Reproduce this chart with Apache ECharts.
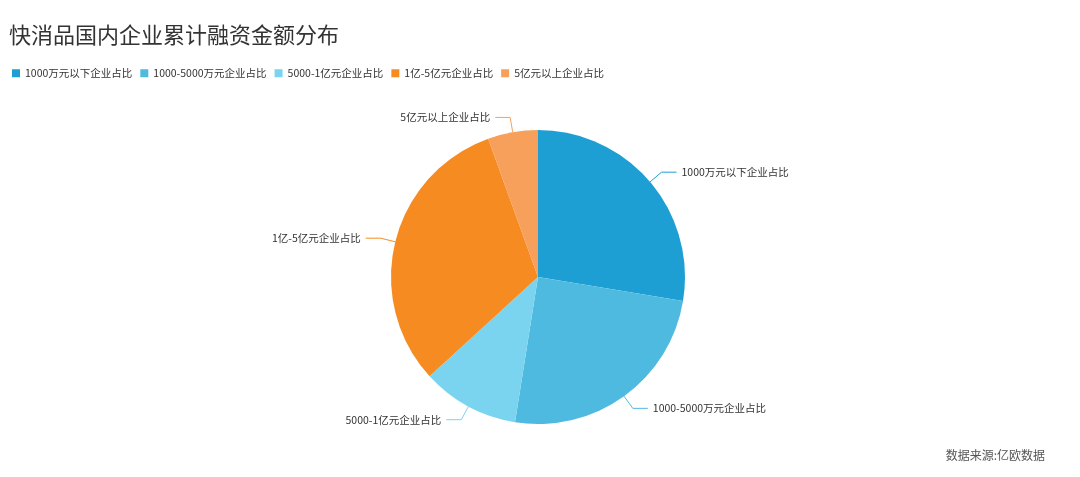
<!DOCTYPE html>
<html>
<head>
<meta charset="utf-8">
<script src="https://cdn.jsdelivr.net/npm/echarts@6/dist/echarts.min.js"></script>
<style>
  html, body { margin: 0; padding: 0; background: #fff; }
  #chart { width: 1080px; height: 477px; }
</style>
</head>
<body>
<div id="chart"></div>
<script>
// 融资金额分布(占比, 从图上估读)
var categories = ['1000万元以下企业占比', '1000-5000万元企业占比', '5000-1亿元企业占比', '1亿-5亿元企业占比', '5亿元以上企业占比'];
var values = [27.6, 24.9, 10.7, 31.3, 5.5];
var colors = ['#1E9FD3', '#4FBADF', '#7AD4EF', '#F68B22', '#F6A05B'];

var chart = echarts.init(document.getElementById('chart'));
var pieData = categories.map(function (name, i) {
  return { name: name, value: values[i] };
});

var option = {
  textStyle: { fontFamily: 'Noto Sans CJK SC' },
  color: colors,
  title: [{
    text: '快消品国内企业累计融资金额分布',
    left: 4,
    top: 19,
    textStyle: { fontSize: 22, fontWeight: 'normal', color: '#333' }
  }, {
    text: '数据来源:亿欧数据',
    right: 30,
    bottom: 11,
    textStyle: { fontSize: 12, fontWeight: 'normal', color: '#555' }
  }],
  legend: {
    data: categories,
    left: 7,
    top: 63,
    itemWidth: 8,
    itemHeight: 8,
    itemGap: 8,
    icon: 'rect',
    textStyle: { fontSize: 10.5, color: '#333' }
  },
  series: [{
    type: 'pie',
    center: [538, 277],
    radius: [0, 147],
    startAngle: 90,
    clockwise: true,
    data: pieData,
    label: { fontSize: 10.5, color: '#333' },
    labelLine: { length: 15, length2: 15 },
    itemStyle: { borderWidth: 0 }
  }]
};
chart.setOption(option, true);
</script>
</body>
</html>
